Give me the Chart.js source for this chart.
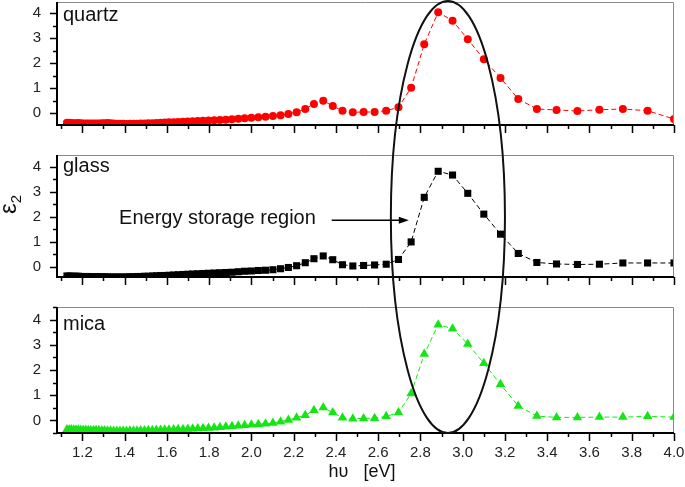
<!DOCTYPE html>
<html>
<head>
<meta charset="utf-8">
<script src="https://cdn.jsdelivr.net/npm/chart.js@4.4.0/dist/chart.umd.min.js"></script>
<style>
  body { margin: 0; background: #fff; }
  #wrap { position: relative; width: 685px; height: 487px; background: #fff; overflow: hidden; }
  canvas { position: absolute; left: 0; }
</style>
</head>
<body>
<div id="wrap">
  <canvas id="c1" width="685" height="135" style="top:0px"></canvas>
  <canvas id="c2" width="685" height="134" style="top:153px"></canvas>
  <canvas id="c3" width="685" height="182" style="top:305px"></canvas>
  <canvas id="overlay" width="685" height="487" style="top:0px"></canvas>
</div>
<script>
// photon energy (eV) of each measured point
const energy = [
  1.127, 1.138, 1.148, 1.159, 1.170, 1.181, 1.192, 1.204, 1.216, 1.228,
  1.240, 1.253, 1.265, 1.278, 1.292, 1.305, 1.319, 1.333, 1.348, 1.363,
  1.378, 1.393, 1.409, 1.425, 1.442, 1.459, 1.476, 1.494, 1.512, 1.531,
  1.550, 1.570, 1.590, 1.610, 1.632, 1.653, 1.676, 1.699, 1.722, 1.746,
  1.771, 1.797, 1.824, 1.851, 1.879, 1.908, 1.938, 1.968, 2.000, 2.033,
  2.067, 2.102, 2.138, 2.175, 2.214, 2.255, 2.296, 2.340, 2.385, 2.431,
  2.480, 2.531, 2.583, 2.638, 2.696, 2.756, 2.818, 2.884, 2.952, 3.024,
  3.100, 3.179, 3.263, 3.351, 3.444, 3.543, 3.647, 3.758, 3.875, 4.000
];

// epsilon_2 for each substrate
const quartz = [
  -0.38, -0.38, -0.39, -0.40, -0.40, -0.39, -0.40, -0.41, -0.41, -0.41,
  -0.41, -0.41, -0.41, -0.41, -0.40, -0.40, -0.39, -0.40, -0.41, -0.42,
  -0.42, -0.42, -0.43, -0.42, -0.42, -0.42, -0.41, -0.41, -0.40, -0.40,
  -0.39, -0.38, -0.37, -0.36, -0.36, -0.35, -0.34, -0.33, -0.32, -0.31,
  -0.30, -0.29, -0.28, -0.27, -0.26, -0.24, -0.22, -0.20, -0.18, -0.16,
  -0.14, -0.11, -0.08, -0.03, 0.04, 0.17, 0.37, 0.50, 0.29, 0.10,
  0.04, 0.05, 0.05, 0.10, 0.24, 1.02, 2.76, 4.04, 3.70, 2.96,
  2.16, 1.41, 0.57, 0.17, 0.13, 0.09, 0.14, 0.17, 0.10, -0.23
];
const glass = [
  -0.36, -0.36, -0.37, -0.37, -0.37, -0.37, -0.38, -0.38, -0.38, -0.38,
  -0.39, -0.39, -0.39, -0.39, -0.39, -0.39, -0.40, -0.40, -0.40, -0.40,
  -0.40, -0.40, -0.40, -0.39, -0.39, -0.38, -0.38, -0.37, -0.37, -0.36,
  -0.35, -0.34, -0.34, -0.33, -0.32, -0.31, -0.30, -0.29, -0.28, -0.27,
  -0.26, -0.25, -0.24, -0.23, -0.22, -0.21, -0.19, -0.17, -0.16, -0.14,
  -0.13, -0.11, -0.07, -0.02, 0.05, 0.17, 0.33, 0.44, 0.29, 0.09,
  0.04, 0.06, 0.08, 0.11, 0.30, 1.00, 2.78, 3.82, 3.67, 2.94,
  2.11, 1.31, 0.54, 0.18, 0.12, 0.10, 0.11, 0.16, 0.16, 0.16
];
const mica = [
  -0.36, -0.36, -0.36, -0.37, -0.37, -0.37, -0.38, -0.38, -0.38, -0.39,
  -0.39, -0.39, -0.39, -0.39, -0.40, -0.40, -0.41, -0.41, -0.42, -0.42,
  -0.42, -0.42, -0.42, -0.41, -0.41, -0.41, -0.40, -0.40, -0.39, -0.39,
  -0.38, -0.38, -0.37, -0.37, -0.36, -0.35, -0.35, -0.34, -0.33, -0.32,
  -0.31, -0.30, -0.29, -0.27, -0.25, -0.23, -0.21, -0.19, -0.17, -0.15,
  -0.13, -0.10, -0.05, 0.02, 0.11, 0.20, 0.40, 0.51, 0.31, 0.11,
  0.07, 0.08, 0.09, 0.16, 0.31, 1.07, 2.63, 3.80, 3.64, 3.03,
  2.27, 1.43, 0.57, 0.17, 0.12, 0.12, 0.13, 0.13, 0.16, 0.13
];

const panelNames = ['quartz', 'glass', 'mica'];
const xMin = 1.08, xMax = 4.0;
const yRanges = [[-0.47, 4.45], [-0.40, 4.47], [-0.50, 4.50]];
const labelFont = '"Liberation Sans", Arial, sans-serif';

// frame, tick marks and the panel name
const framePlugin = {
  id: 'frame',
  afterDraw(chart) {
    const { ctx, chartArea: a, scales: { x, y } } = chart;
    ctx.save();
    ctx.strokeStyle = '#8a8a8a';
    ctx.lineWidth = 1;
    ctx.beginPath();
    ctx.moveTo(a.left, a.top + 0.5);
    ctx.lineTo(a.right - 0.5, a.top + 0.5);
    ctx.lineTo(a.right - 0.5, a.bottom);
    ctx.stroke();

    ctx.strokeStyle = '#000';
    ctx.lineWidth = 2;
    ctx.beginPath();
    ctx.moveTo(a.left, a.top);
    ctx.lineTo(a.left, a.bottom);
    ctx.lineTo(a.right, a.bottom);
    ctx.stroke();

    ctx.lineWidth = 1.5;
    ctx.beginPath();
    x.ticks.forEach(t => {
      const px = Math.round(x.getPixelForValue(t.value)) + 0.5;
      const major = Math.round(t.value * 10) % 2 === 0;
      ctx.moveTo(px, a.bottom);
      ctx.lineTo(px, a.bottom + (major ? 8 : 4));
    });
    y.ticks.forEach(t => {
      const py = Math.round(y.getPixelForValue(t.value)) + 0.5;
      const major = Math.abs(t.value - Math.round(t.value)) < 1e-6;
      ctx.moveTo(a.left, py);
      ctx.lineTo(a.left - (major ? 7 : 4), py);
    });
    ctx.stroke();

    const p = chart.options.plugins.frame;
    ctx.fillStyle = '#111';
    ctx.font = '20px ' + labelFont;
    ctx.textBaseline = 'alphabetic';
    ctx.fillText(p.name, a.left + 6, a.top + p.nameOffset);
    ctx.restore();
  }
};

// arrow and caption in the glass panel
const arrowPlugin = {
  id: 'arrowNote',
  afterDraw(chart) {
    const { ctx, scales: { x, y } } = chart;
    const x0 = x.getPixelForValue(2.38), x1 = x.getPixelForValue(2.745);
    const py = y.getPixelForValue(1.87);
    ctx.save();
    ctx.strokeStyle = '#000';
    ctx.fillStyle = '#000';
    ctx.lineWidth = 1.5;
    ctx.beginPath();
    ctx.moveTo(x0, py);
    ctx.lineTo(x1 - 8, py);
    ctx.stroke();
    ctx.beginPath();
    ctx.moveTo(x1, py);
    ctx.lineTo(x1 - 10, py - 3.5);
    ctx.lineTo(x1 - 10, py + 3.5);
    ctx.closePath();
    ctx.fill();
    ctx.fillStyle = '#111';
    ctx.font = '20px ' + labelFont;
    ctx.textAlign = 'right';
    ctx.textBaseline = 'middle';
    ctx.fillText('Energy storage region', x.getPixelForValue(2.305), y.getPixelForValue(1.95));
    ctx.restore();
  }
};

// scales should not push the plot area around for their end labels
function noEdgePadding(s) {
  s.paddingTop = 0;
  s.paddingBottom = 0;
  s.paddingLeft = 0;
  s.paddingRight = 0;
}

function makePanel(id, idx, data, color, style, radius, showLabels, nameOffset, extra) {
  const axisHeight = showLabels ? 54 : 10;
  return new Chart(document.getElementById(id), {
    type: 'line',
    data: {
      datasets: [{
        data: energy.map((e, i) => ({ x: e, y: data[i] })),
        borderColor: color,
        backgroundColor: color,
        borderWidth: 1,
        borderDash: [5, 3],
        pointStyle: style,
        pointRadius: radius,
        pointBorderWidth: 0,
        tension: 0
      }]
    },
    options: {
      responsive: false,
      animation: false,
      events: [],
      layout: { autoPadding: false, padding: { top: 2, right: 11, left: 0, bottom: 0 } },
      plugins: {
        legend: { display: false },
        tooltip: { enabled: false },
        frame: { name: panelNames[idx], nameOffset: nameOffset }
      },
      scales: {
        x: {
          type: 'linear',
          min: xMin,
          max: xMax,
          grid: { display: false, drawTicks: false },
          border: { display: false },
          afterFit: s => { s.height = axisHeight; noEdgePadding(s); },
          ticks: {
            display: showLabels,
            stepSize: 0.1,
            includeBounds: false,
            autoSkip: false,
            maxRotation: 0,
            padding: 11,
            color: '#222',
            font: { family: labelFont, size: 15 },
            callback: v => (Math.round(v * 10) % 2 === 0 ? v.toFixed(1) : '')
          }
        },
        y: {
          min: yRanges[idx][0],
          max: yRanges[idx][1],
          grid: { display: false, drawTicks: false },
          border: { display: false },
          afterFit: s => { s.width = 57; noEdgePadding(s); },
          ticks: {
            stepSize: 0.5,
            includeBounds: false,
            autoSkip: false,
            padding: 16,
            color: '#222',
            font: { family: labelFont, size: 15 },
            callback: v => (Math.abs(v - Math.round(v)) < 1e-6 ? String(Math.round(v)) : '')
          }
        }
      }
    },
    plugins: [framePlugin].concat(extra || [])
  });
}

const chart1 = makePanel('c1', 0, quartz, '#ff0000', 'circle', 4, false, 19);
const chart2 = makePanel('c2', 1, glass, '#000000', 'rect', 5, false, 17, [arrowPlugin]);
const chart3 = makePanel('c3', 2, mica, '#14e614', 'triangle', 5.5, true, 23);

// shared overlay: ellipse, y label and x title
(function drawOverlay() {
  const ctx = document.getElementById('overlay').getContext('2d');
  const x3 = chart3.scales.x;
  const top1 = 0 + chart1.chartArea.top - 1;
  const bottom3 = 305 + chart3.chartArea.bottom;
  const cx = x3.getPixelForValue(2.93);
  const rx = x3.getPixelForValue(2.93 + 0.27) - cx;
  const cy = (top1 + bottom3) / 2, ry = (bottom3 - top1) / 2;
  ctx.strokeStyle = '#111';
  ctx.lineWidth = 2;
  ctx.beginPath();
  ctx.ellipse(cx, cy, rx, ry, 0, 0, Math.PI * 2);
  ctx.stroke();

  ctx.fillStyle = '#111';
  ctx.save();
  ctx.translate(16, 214);
  ctx.rotate(-Math.PI / 2);
  ctx.font = '24px ' + labelFont;
  ctx.textAlign = 'left';
  ctx.textBaseline = 'alphabetic';
  ctx.fillText('\u03b5', 0, 0);
  const w = ctx.measureText('\u03b5').width;
  ctx.font = '15px ' + labelFont;
  ctx.fillText('2', w, 5);
  ctx.restore();

  ctx.font = '18px ' + labelFont;
  ctx.textAlign = 'center';
  ctx.textBaseline = 'middle';
  ctx.fillText('h\u03c5   [eV]', 362, 472);
})();
</script>
</body>
</html>
